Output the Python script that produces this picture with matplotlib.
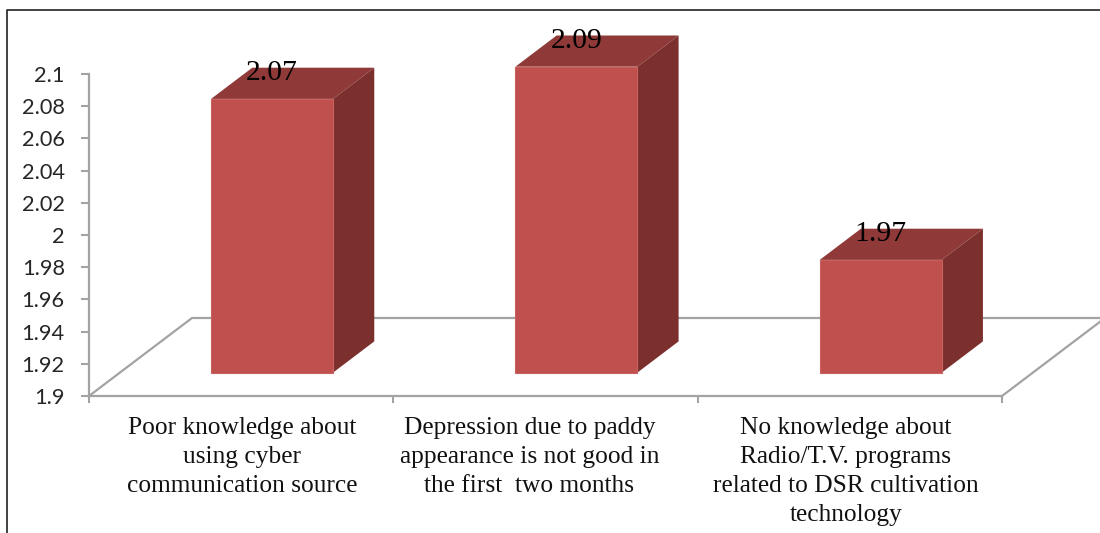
import matplotlib
matplotlib.use('Agg')
import matplotlib.pyplot as plt
from matplotlib.lines import Line2D
from matplotlib.patches import Polygon

# Data
categories = [
    'Poor knowledge about\nusing cyber\ncommunication source',
    'Depression due to paddy\nappearance is not good in\nthe first  two months',
    'No knowledge about\nRadio/T.V. programs\nrelated to DSR cultivation\ntechnology',
]
values = [2.07, 2.09, 1.97]
y_ticks = [1.9, 1.92, 1.94, 1.96, 1.98, 2, 2.02, 2.04, 2.06, 2.08, 2.1]
y_labels = ['1.9', '1.92', '1.94', '1.96', '1.98', '2', '2.02', '2.04', '2.06', '2.08', '2.1']

W, H = 1100, 533
fig = plt.figure(figsize=(W / 100, H / 100), dpi=100)

# axes box in pixels
left, right, top, bottom = 89, 1002, 74, 396
ax = fig.add_axes([left / W, 1 - bottom / H, (right - left) / W, (bottom - top) / H])
ax.set_xlim(0, 3)
ax.set_ylim(1.9, 2.1)

px_x = 3 / (right - left)
px_y = 0.2 / (bottom - top)

# oblique depth of the floor
depth_x = 103 * px_x
depth_y = 78 * px_y
front = 0.3
back = 0.7
bar_w = 122 * px_x

grey = '#a3a3a3'

# floor outline
ax.add_line(Line2D([0, depth_x, 3 + depth_x], [1.9, 1.9 + depth_y, 1.9 + depth_y],
                   color=grey, lw=1.6, clip_on=False, zorder=1))
ax.add_line(Line2D([3, 3 + depth_x], [1.9, 1.9 + depth_y],
                   color=grey, lw=1.6, clip_on=False, zorder=1))

# bars
for i, v in enumerate(values):
    x0 = i + 0.5 - bar_w / 2 + front * depth_x
    x1 = x0 + bar_w
    y0 = 1.9 + front * depth_y
    y1 = v + front * depth_y
    dx = (back - front) * depth_x
    dy = (back - front) * depth_y
    ax.add_patch(Polygon([(x0, y1), (x1, y1), (x1 + dx, y1 + dy), (x0 + dx, y1 + dy)],
                         fc='#8f3a38', ec='none', clip_on=False, zorder=3))
    ax.add_patch(Polygon([(x1, y0), (x1 + dx, y0 + dy), (x1 + dx, y1 + dy), (x1, y1)],
                         fc='#7c302e', ec='none', clip_on=False, zorder=3))
    ax.add_patch(Polygon([(x0, y0), (x1, y0), (x1, y1), (x0, y1)],
                         fc='#c0504d', ec='#c9625f', lw=0.8, clip_on=False, zorder=4))
    ax.annotate(str(v), ((x0 + x1) / 2, y1), xytext=(0, 9.5), textcoords='offset points',
                ha='center', va='bottom', family='Liberation Serif', fontsize=21.3,
                color='black', annotation_clip=False, zorder=5)

# axes
for s in ['top', 'right']:
    ax.spines[s].set_visible(False)
for s in ['left', 'bottom']:
    ax.spines[s].set_color(grey)
    ax.spines[s].set_linewidth(1.6)
ax.patch.set_alpha(0)

ax.set_yticks(y_ticks)
ax.set_yticklabels(y_labels, family='Lato', fontsize=15.7, color='#262626')
ax.tick_params(axis='y', length=5.5, width=1.5, color=grey, pad=12)

ax.set_xticks([0, 1, 2, 3])
ax.set_xticklabels([])
ax.tick_params(axis='x', which='major', length=5, width=1.5, color=grey)

# category labels are not quite centred on their slots in the original
label_px = [242, 529.5, 846]
ax.set_xticks([(p - left) * px_x for p in label_px], minor=True)
ax.set_xticklabels(categories, minor=True, family='Liberation Serif', fontsize=18.3,
                   color='#111111', linespacing=1.41, va='top')
ax.tick_params(axis='x', which='minor', length=0, pad=15)

# outer frame, only top and left are visible in the crop
fig.add_artist(Line2D([7 / W, 7 / W, 1], [0, 1 - 10 / H, 1 - 10 / H], color='#222222', lw=1.2))

fig.savefig('out.png', dpi=100)
